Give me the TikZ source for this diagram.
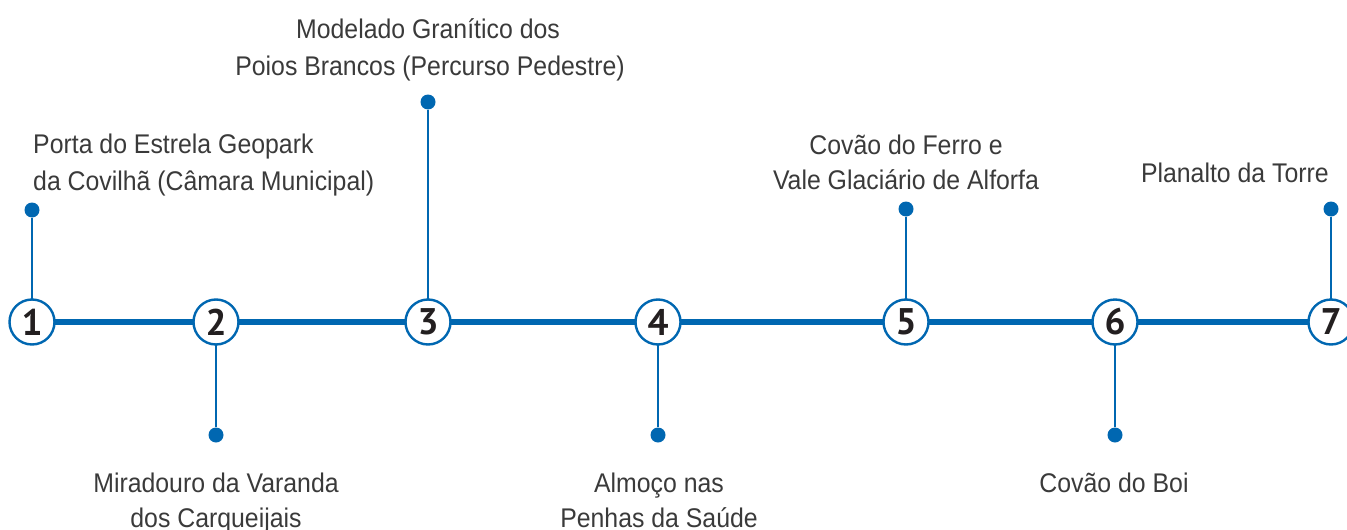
\documentclass[tikz,border=0pt]{standalone}
\usepackage{fontspec}
\setmainfont{Liberation Sans}[FakeStretch=0.92]
\newfontfamily\numfont{PT Sans}
\definecolor{tblue}{RGB}{0,103,177}
\definecolor{ttext}{RGB}{58,58,58}
\definecolor{tnum}{RGB}{35,31,32}
\tikzset{
  stopnode/.style={circle, draw=tblue, line width=2.4pt, fill=white, minimum size=45pt, inner sep=0pt, text=tnum, font=\numfont\bfseries\fontsize{37}{37}\selectfont},
  mainline/.style={draw=tblue, line width=5.5pt},
  stemline/.style={draw=tblue, line width=2pt},
  dotnode/.style={circle, fill=tblue, minimum size=15pt, inner sep=0pt},
  lbl/.style={text=ttext, font=\fontsize{27}{27}\selectfont, inner sep=0pt, anchor=base},
}
\begin{document}
\begin{tikzpicture}[x=1pt,y=-1pt]
\useasboundingbox (0,0) rectangle (1347,530);
% dots
\node[dotnode] (d1) at (32,210) {};
\node[dotnode] (d2) at (216,435) {};
\node[dotnode] (d3) at (428,102) {};
\node[dotnode] (d4) at (658,435) {};
\node[dotnode] (d5) at (906,209) {};
\node[dotnode] (d6) at (1115,435) {};
\node[dotnode] (d7) at (1331,209) {};
% stops coordinates
\coordinate (c1) at (32,322);
\coordinate (c2) at (216,322);
\coordinate (c3) at (428,322);
\coordinate (c4) at (658,322);
\coordinate (c5) at (906,322);
\coordinate (c6) at (1115,322);
\coordinate (c7) at (1331,322);
\draw[mainline] (c1) -- (c2) -- (c3) -- (c4) -- (c5) -- (c6) -- (c7);
\draw[stemline] (d1) -- (c1);
\draw[stemline] (d2) -- (c2);
\draw[stemline] (d3) -- (c3);
\draw[stemline] (d4) -- (c4);
\draw[stemline] (d5) -- (c5);
\draw[stemline] (d6) -- (c6);
\draw[stemline] (d7) -- (c7);
\node[stopnode] (n1) at (c1) {1};
\node[stopnode] (n2) at (c2) {2};
\node[stopnode] (n3) at (c3) {3};
\node[stopnode] (n4) at (c4) {4};
\node[stopnode] (n5) at (c5) {5};
\node[stopnode] (n6) at (c6) {6};
\node[stopnode] (n7) at (c7) {7};
% labels
\node[lbl, anchor=base west] (l1a) at (33,153) {Porta do Estrela Geopark};
\node[lbl, anchor=base west] (l1b) at (33,190) {da Covilhã (Câmara Municipal)};
\node[lbl] (l3a) at (428,38) {Modelado Granítico dos};
\node[lbl] (l3b) at (430,75) {Poios Brancos (Percurso Pedestre)};
\node[lbl] (l5a) at (906,154) {Covão do Ferro e};
\node[lbl] (l5b) at (906,189) {Vale Glaciário de Alforfa};
\node[lbl, anchor=base east] (l7) at (1329,182) {Planalto da Torre};
\node[lbl] (l2a) at (216,492) {Miradouro da Varanda};
\node[lbl] (l2b) at (216,527) {dos Carqueijais};
\node[lbl] (l4a) at (659,492) {Almoço nas};
\node[lbl] (l4b) at (659,527) {Penhas da Saúde};
\node[lbl] (l6) at (1114,492) {Covão do Boi};
\end{tikzpicture}
\end{document}
